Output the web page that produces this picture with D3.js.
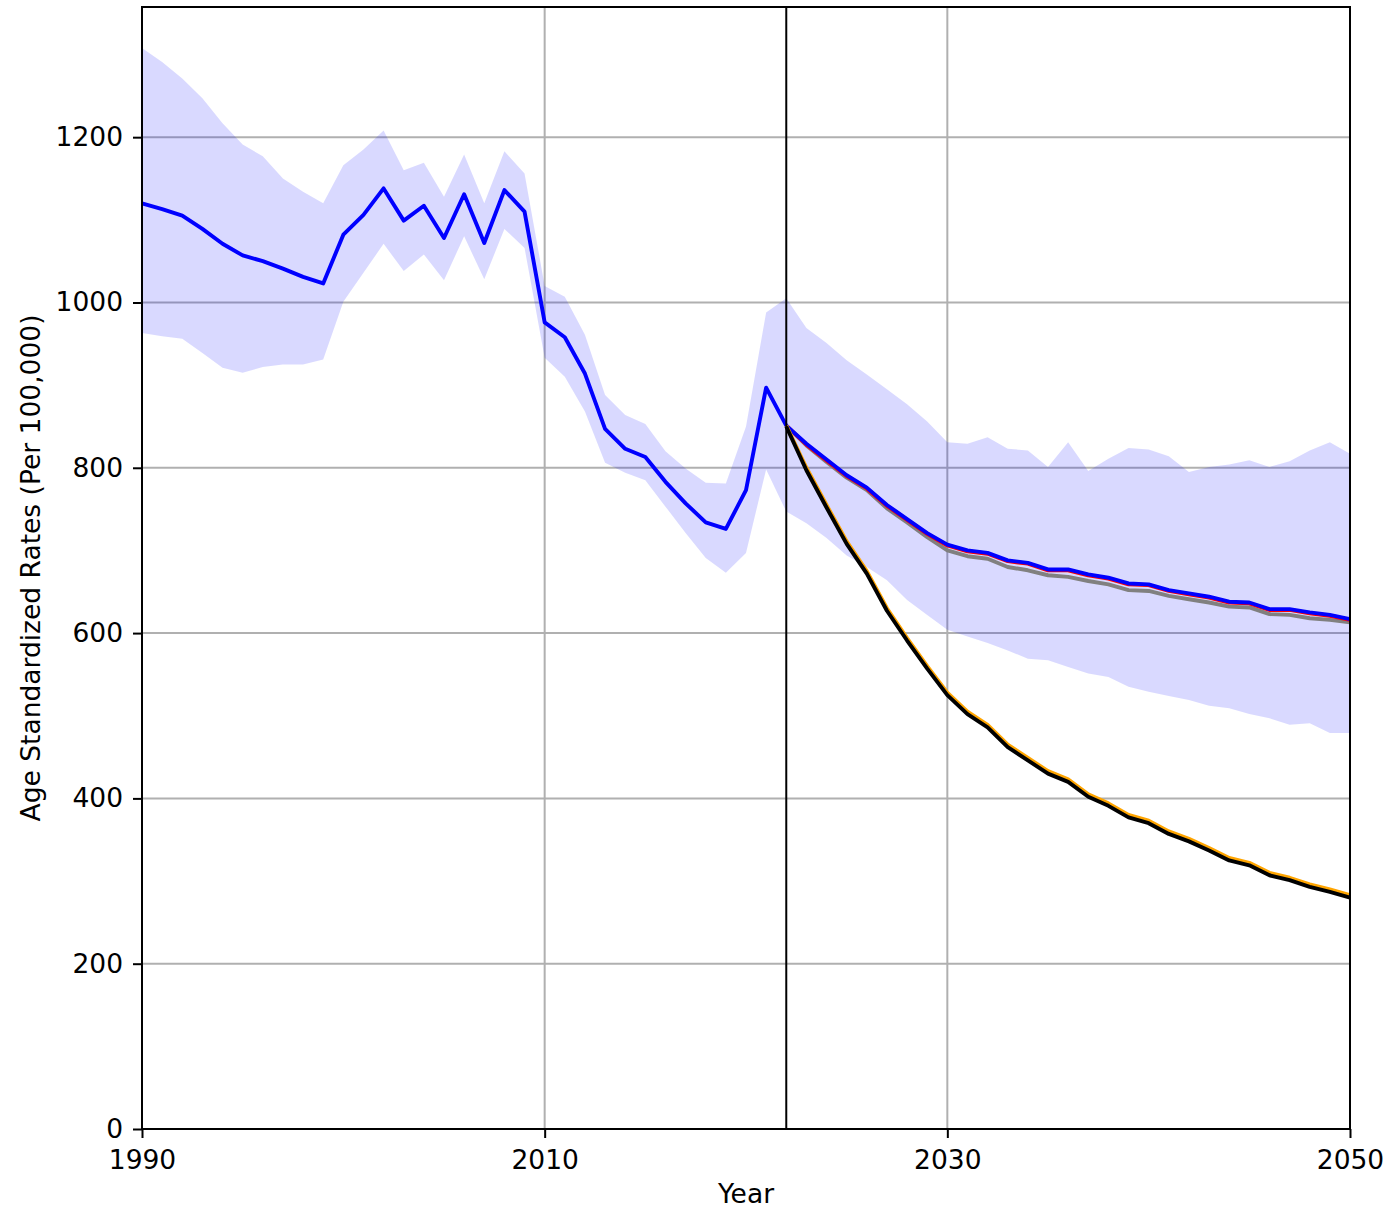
<!DOCTYPE html>
<html>
<head>
<meta charset="utf-8">
<script src="https://cdn.jsdelivr.net/npm/d3@7"></script>
<style>
  html, body { margin: 0; padding: 0; background: #fff; }
  svg { display: block; }
  text { font-family: "DejaVu Sans", sans-serif; }
</style>
</head>
<body>
<svg id="chart" width="1390" height="1213"></svg>
<script>
// ---------- data ----------
const startYear = 1990;
const endYear = 2050;
const forecastStart = 2022;

// observed/reference series (blue) 1990-2022
const blueHist = [1120,1113,1105,1089,1071,1057,1050,1041,1031,1023,
                  1082,1106,1138,1099,1117,1078,1131,1072,1136,1110,
                  976,958,914,847,823,813,783,757,734,726,
                  773,897,851];
// blue forecast 2023-2050
const blueFcst = [829,810,791,776,755,738,721,707,700,697,
                  688,685,677,677,671,667,660,659,652,648,
                  644,638,637,629,629,625,622,617];
// red (under blue) 2022-2050
const redFcst = [851,828,809,790,775,754,737,720,706,699,
                 696,687,684,676,676,670,666,659,658,651,
                 647,643,637,636,628,628,624,621,616];
// gray 2022-2050
const grayFcst = [851,827,807,788,773,751,734,716,700,693,
                  690,680,676,670,668,663,659,652,651,645,
                  641,637,632,631,623,622,618,616,613];
// orange 2022-2050
const orangeFcst = [851,800,755,711,675,630,594,560,528,505,
                    489,465,449,433,423,405,394,380,373,360,
                    351,340,328,322,310,304,296,290,283];
// black 2022-2050
const blackFcst = [850,797,752,708,672,627,591,557,525,502,
                   486,462,446,430,420,402,391,377,370,357,
                   348,337,325,319,307,301,293,287,280];
// uncertainty band 1990-2050
const bandUpper = [1308,1291,1271,1247,1217,1191,1177,1150,1134,1120,
                   1166,1185,1208,1160,1169,1128,1179,1120,1183,1156,
                   1020,1007,961,888,864,853,820,799,782,781,
                   850,988,1005,969,951,930,913,895,877,856,
                   831,829,837,823,821,801,831,796,811,824,
                   822,814,795,801,804,809,801,808,821,831,817];
const bandLower = [963,959,956,939,921,915,922,925,925,931,
                   1001,1036,1071,1038,1058,1027,1080,1028,1089,1066,
                   933,910,868,806,794,785,753,721,691,673,
                   697,798,747,733,715,694,680,664,640,622,
                   604,596,588,579,569,567,559,551,547,535,
                   529,524,519,512,509,502,497,489,491,479,479];

const xTicks = [1990, 2010, 2030, 2050];
const yTicks = [0, 200, 400, 600, 800, 1000, 1200];
const xLabel = "Year";
const yLabel = "Age Standardized Rates (Per 100,000)";

// ---------- layout ----------
const W = 1390, H = 1213;
const m = {left: 142, right: 40, top: 7, bottom: 84};
const iw = W - m.left - m.right;
const ih = H - m.top - m.bottom;

const svg = d3.select("#chart");
const g = svg.append("g").attr("transform", `translate(${m.left},${m.top})`);

const x = d3.scaleLinear().domain([startYear, endYear]).range([0, iw]);
const y = d3.scaleLinear().domain([0, 1357.5]).range([ih, 0]);

const allYears = d3.range(startYear, endYear + 1);
const histYears = d3.range(startYear, forecastStart + 1);
const fcYears = d3.range(forecastStart, endYear + 1);

const bandData = allYears.map((yr, i) => ({yr, lo: bandLower[i], hi: bandUpper[i]}));
const blueAll = histYears.map((yr, i) => ({yr, v: blueHist[i]}))
  .concat(blueFcst.map((v, i) => ({yr: forecastStart + 1 + i, v})));
const mk = arr => fcYears.map((yr, i) => ({yr, v: arr[i]}));

// grid
const gridColor = "#b0b0b0";
g.append("g").selectAll("line.hg").data(yTicks).join("line")
  .attr("x1", 0).attr("x2", iw)
  .attr("y1", d => y(d)).attr("y2", d => y(d))
  .attr("stroke", gridColor).attr("stroke-width", 2);
g.append("g").selectAll("line.vg").data(xTicks).join("line")
  .attr("y1", 0).attr("y2", ih)
  .attr("x1", d => x(d)).attr("x2", d => x(d))
  .attr("stroke", gridColor).attr("stroke-width", 2);

// band
const area = d3.area().x(d => x(d.yr)).y0(d => y(d.lo)).y1(d => y(d.hi));
g.append("path").datum(bandData).attr("d", area)
  .attr("fill", "blue").attr("fill-opacity", 0.15).attr("stroke", "none");

const line = d3.line().x(d => x(d.yr)).y(d => y(d.v));
const lw = 3.9;
function drawLine(data, color) {
  g.append("path").datum(data).attr("d", line)
    .attr("fill", "none").attr("stroke", color)
    .attr("stroke-width", lw).attr("stroke-linejoin", "round").attr("stroke-linecap", "butt");
}
drawLine(mk(grayFcst), "gray");
drawLine(mk(redFcst), "red");
drawLine(blueAll, "blue");
drawLine(mk(orangeFcst), "orange");
drawLine(mk(blackFcst), "black");

// vertical forecast line
g.append("line")
  .attr("x1", x(forecastStart)).attr("x2", x(forecastStart))
  .attr("y1", 0).attr("y2", ih)
  .attr("stroke", "black").attr("stroke-width", 2);

// axes
const fs = "26.5px";
const xAxis = g.append("g").attr("transform", `translate(0,${ih})`)
  .call(d3.axisBottom(x).tickValues(xTicks).tickFormat(d3.format("d")).tickSize(9).tickPadding(12));
const yAxis = g.append("g")
  .call(d3.axisLeft(y).tickValues(yTicks).tickFormat(d3.format("d")).tickSize(9).tickPadding(10));
[xAxis, yAxis].forEach(a => {
  a.select(".domain").remove();
  a.selectAll(".tick line").attr("stroke", "black").attr("stroke-width", 2);
  a.selectAll(".tick text").attr("font-size", fs).attr("fill", "black")
    .attr("font-family", "'DejaVu Sans', sans-serif");
});

// frame
g.append("rect").attr("x", 0).attr("y", 0).attr("width", iw).attr("height", ih)
  .attr("fill", "none").attr("stroke", "black").attr("stroke-width", 2);

// labels
svg.append("text").attr("x", m.left + iw / 2).attr("y", 1203)
  .attr("text-anchor", "middle").attr("font-size", fs).text(xLabel);
svg.append("text")
  .attr("transform", `translate(40,${m.top + ih / 2}) rotate(-90)`)
  .attr("text-anchor", "middle").attr("font-size", fs).text(yLabel);
</script>
</body>
</html>
